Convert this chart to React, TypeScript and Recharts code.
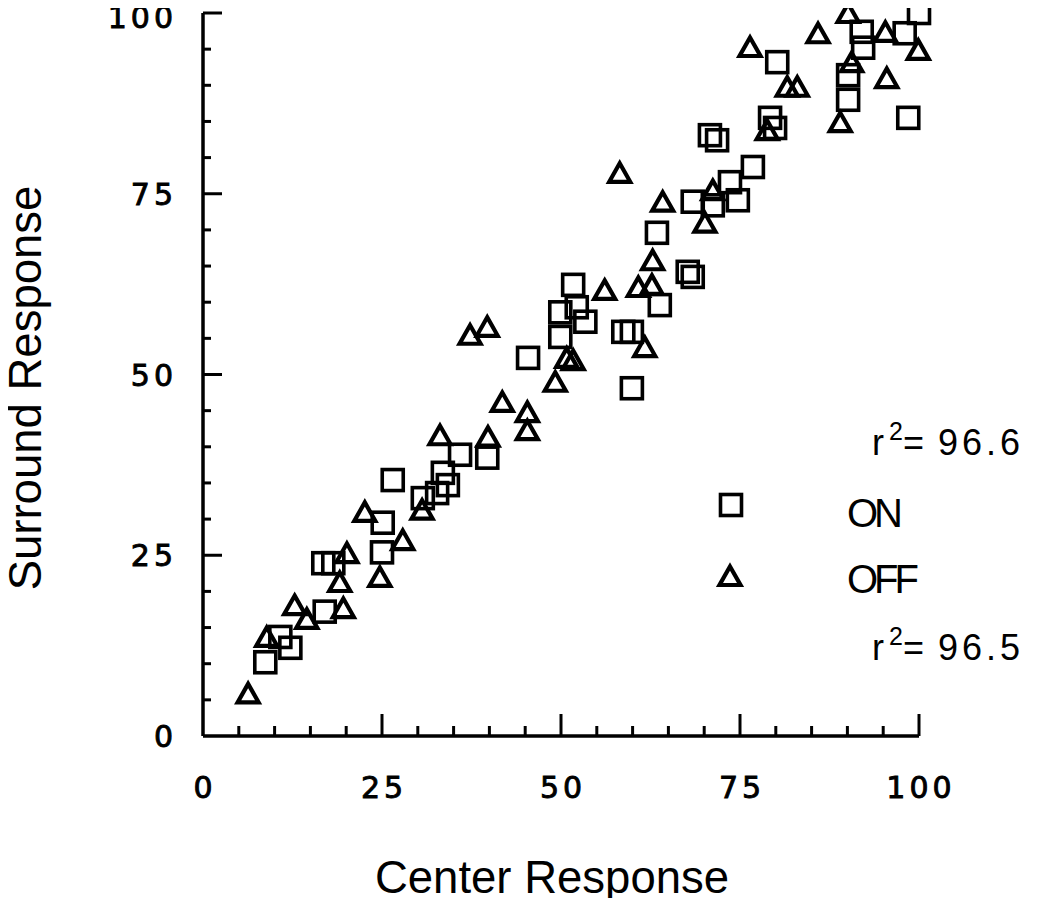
import { ScatterChart, Scatter, XAxis, YAxis } from 'recharts'

// ON cells (squares)
const onCenter = [8.7, 10.8, 12.2, 17.0, 16.8, 18.2, 25.0, 25.1, 26.5, 30.7, 32.7, 34.2, 33.5, 35.9, 39.7, 45.4, 49.9, 49.9, 52.2, 53.4, 51.7, 58.7, 59.9, 59.9, 63.8, 63.4, 67.7, 68.4, 68.4, 71.2, 74.7, 73.6, 76.8, 70.8, 71.8, 79.2, 79.9, 80.2, 90.1, 90.1, 92.0, 92.2, 98.0, 100, 98.5]
const onSurround = [10.2, 13.7, 12.2, 17.2, 23.9, 23.9, 25.4, 29.5, 35.4, 32.9, 33.6, 34.7, 36.4, 38.9, 38.5, 52.3, 55.2, 58.6, 59.3, 57.3, 62.4, 55.9, 55.9, 48.1, 59.6, 69.6, 64.2, 63.5, 73.9, 73.4, 74.1, 76.6, 78.7, 83.1, 82.4, 85.5, 84.1, 93.2, 91.4, 88.0, 97.4, 95.2, 97.2, 100, 85.5]

// OFF cells (triangles)
const offCenter = [6.3, 8.9, 12.8, 14.5, 19.6, 19.1, 20.1, 24.7, 27.9, 22.6, 30.6, 33.1, 39.8, 37.3, 39.7, 41.8, 45.3, 45.3, 49.2, 50.8, 51.7, 56.1, 61.7, 60.8, 62.7, 62.8, 58.2, 64.2, 70.1, 71.2, 76.4, 78.8, 81.6, 83.0, 85.9, 90.1, 89.0, 90.6, 95.3, 95.5, 99.9]
const offSurround = [5.9, 13.7, 18.1, 16.2, 17.7, 21.3, 25.3, 22.0, 27.1, 31.0, 31.3, 41.6, 41.4, 55.5, 56.6, 46.2, 44.8, 42.3, 49.0, 52.3, 52.0, 61.7, 53.8, 62.1, 62.4, 65.8, 77.9, 73.9, 71.0, 75.5, 95.3, 83.8, 89.8, 89.8, 97.2, 100, 84.9, 93.2, 97.4, 91.0, 94.9]

const axisTicks = [0, 5, 10, 15, 20, 25, 30, 35, 40, 45, 50, 55, 60, 65, 70, 75, 80, 85, 90, 95, 100]
const labeledTicks = [0, 25, 50, 75, 100]

const onData = onCenter.map((x, i) => ({ x, y: onSurround[i] }))
const offData = offCenter.map((x, i) => ({ x, y: offSurround[i] }))

const tickFont = {
  fontFamily: '"DejaVu Sans", sans-serif',
  fontSize: 30,
  letterSpacing: 4,
  stroke: '#000',
  strokeWidth: 0.9,
}
const sansFont = '"Liberation Sans", Arial, sans-serif'
const titleFont = { fontFamily: sansFont, fontSize: 45.5 }

function SquareMark({ cx, cy }: any) {
  return <rect x={cx - 10.5} y={cy - 10.5} width={21} height={21} fill="none" stroke="#000" strokeWidth={3.6} />
}

function TriangleMark({ cx, cy }: any) {
  return (
    <polygon
      points={`${cx},${cy - 9.5} ${cx + 10.5},${cy + 9} ${cx - 10.5},${cy + 9}`}
      fill="none"
      stroke="#000"
      strokeWidth={4.2}
    />
  )
}

function YTick({ x, y, payload }: any) {
  const v = payload.value
  const major = labeledTicks.includes(v)
  return (
    <g>
      {v > 0 && <line x1={x} x2={x + (major ? 19 : 8)} y1={y} y2={y} stroke="#000" strokeWidth={3} />}
      {major && (
        // keep the top label inside the page edge
        <text x={x - 26} y={Math.max(y + 11, 28)} textAnchor="end" fill="#000" {...tickFont}>{v}</text>
      )}
    </g>
  )
}

function XTick({ x, y, payload }: any) {
  const v = payload.value
  const major = labeledTicks.includes(v)
  return (
    <g>
      {v > 0 && <line x1={x} x2={x} y1={y} y2={y - (major ? 22 : 10)} stroke="#000" strokeWidth={3} />}
      {major && (
        <text x={x + 2} y={y + 62} textAnchor="middle" fill="#000" {...tickFont}>{v}</text>
      )}
    </g>
  )
}

function RSquared({ x, y, value }: { x: number; y: number; value: string }) {
  return (
    <text x={x} y={y} fill="#000" fontFamily={sansFont} fontSize={36}>
      r
      <tspan dx={5} dy={-15} fontSize={25}>2</tspan>
      <tspan dy={15} fontSize={36}>=</tspan>
      <tspan dx={14} letterSpacing={4}>{value}</tspan>
    </text>
  )
}

export default function App() {
  return (
    <div style={{ position: 'relative', width: 1050, height: 906, margin: -8, background: '#fff' }}>
      <ScatterChart width={1050} height={906} margin={{ top: 13, right: 131, bottom: 110, left: 0 }}>
        <XAxis
          type="number"
          dataKey="x"
          domain={[0, 100]}
          ticks={axisTicks}
          interval={0}
          height={60}
          tickLine={false}
          tickSize={0}
          tickMargin={0}
          axisLine={{ stroke: '#000', strokeWidth: 3.5 }}
          tick={<XTick />}
        />
        <YAxis
          type="number"
          dataKey="y"
          domain={[0, 100]}
          ticks={axisTicks}
          interval={0}
          width={203}
          tickLine={false}
          tickSize={0}
          tickMargin={0}
          axisLine={{ stroke: '#000', strokeWidth: 3.5 }}
          tick={<YTick />}
        />
        <Scatter name="ON" data={onData} shape={<SquareMark />} isAnimationActive={false} />
        <Scatter name="OFF" data={offData} shape={<TriangleMark />} isAnimationActive={false} />
      </ScatterChart>
      <svg
        width={1050}
        height={906}
        style={{ position: 'absolute', left: 0, top: 0, pointerEvents: 'none' }}
      >
        <text x={552} y={893} textAnchor="middle" fill="#000" {...titleFont}>Center Response</text>
        <text transform="translate(41, 388) rotate(-90)" textAnchor="middle" fill="#000" {...titleFont}>
          Surround Response
        </text>
        <RSquared x={872} y={455} value="96.6" />
        <SquareMark cx={731} cy={505} />
        <text x={847} y={527} fill="#000" fontFamily={sansFont} fontSize={40} letterSpacing={-4}>ON</text>
        <TriangleMark cx={730} cy={576} />
        <text x={847} y={593} fill="#000" fontFamily={sansFont} fontSize={40} letterSpacing={-4}>OFF</text>
        <RSquared x={872} y={660} value="96.5" />
      </svg>
    </div>
  )
}
